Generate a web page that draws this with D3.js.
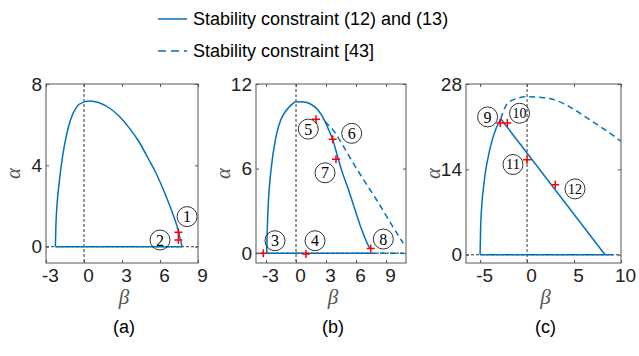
<!DOCTYPE html>
<html><head><meta charset="utf-8">
<script src="https://cdn.jsdelivr.net/npm/d3@7"></script>
<style>html,body{margin:0;padding:0;background:#fff}svg{display:block}</style>
</head><body>
<svg id="chart" width="639" height="356"></svg>
<script>
// ---------- data ----------
const legendLabels = ["Stability constraint (12) and (13)", "Stability constraint [43]"];
const panelNames = ["(a)", "(b)", "(c)"];

// panel (a)
const aXTicks = [-3, 0, 3, 6, 9];
const aYTicks = [0, 4, 8];
const aSolidBeta  = [-2.26, -2.22, -2.12, -1.95, -1.7, -1.41, -1.07, -0.6, 0.0, 0.48, 1.2, 2.0, 2.8, 3.6, 4.4, 5.1, 5.7, 6.3, 6.9, 7.35, 7.74];
const aSolidAlpha = [0.0, 1.0, 2.13, 3.2, 4.4, 5.41, 6.23, 6.85, 7.12, 7.17, 7.08, 6.82, 6.4, 5.82, 5.1, 4.3, 3.6, 2.75, 1.8, 1.0, 0.0];
const aZeroSolid = [-2.26, 7.74];
const aMarkBeta  = [7.45, 7.45];
const aMarkAlpha = [0.71, 0.33];
const aLabText  = ["1", "2"];
const aLabBeta  = [8.14, 6.0];
const aLabAlpha = [1.48, 0.33];

// panel (b)
const bXTicks = [-3, 0, 3, 6, 9];
const bYTicks = [0, 6, 12];
const bSolidBeta  = [-2.93, -2.88, -2.77, -2.5, -2.0, -1.53, -1.0, -0.5, 0.0, 0.7, 1.4, 2.2, 2.9, 3.3, 3.7, 4.1, 4.6, 5.2, 5.8, 6.4, 7.0, 7.4];
const bSolidAlpha = [0.0, 1.5, 3.52, 5.89, 8.26, 9.44, 10.1, 10.5, 10.74, 10.72, 10.6, 10.15, 9.35, 8.7, 8.0, 7.0, 5.8, 4.6, 3.3, 2.0, 0.9, 0.3];
const bDashBeta  = [2.9, 3.3, 3.8, 4.8, 5.73, 6.9, 8.07, 9.4, 10.73];
const bDashAlpha = [9.35, 9.05, 8.65, 7.5, 6.38, 5.05, 3.77, 2.2, 0.69];
const bZeroSolid = [-2.93, 7.4];
const bZeroDash  = [7.4, 10.73];
const bMarkBeta  = [-3.27, 1.0, 2.0, 3.67, 4.0, 7.47];
const bMarkAlpha = [0.0, -0.07, 9.5, 8.08, 6.66, 0.33];
const bLabText  = ["3", "4", "5", "6", "7", "8"];
const bLabBeta  = [-2.1, 1.9, 1.23, 5.57, 2.9, 8.73];
const bLabAlpha = [0.88, 0.88, 8.8, 8.5, 5.7, 1.0];

// panel (c)
const cXTicks = [-5, 0, 5, 10];
const cYTicks = [0, 14, 28];
const cRiseBeta  = [-5.0, -4.95, -4.8, -4.6, -4.4, -4.1, -3.8, -3.3, -2.8];
const cRiseAlpha = [0.0, 4.0, 8.5, 11.5, 13.9, 16.3, 18.3, 20.7, 22.3];
const cLineBeta  = [-2.8, 8.3];
const cLineAlpha = [22.3, 0.0];
const cDashBeta  = [-2.8, -2.3, -1.5, 0.0, 1.5, 2.9, 4.5, 5.75, 7.0, 8.2, 10.0];
const cDashAlpha = [22.3, 24.3, 25.4, 25.9, 25.8, 25.4, 24.3, 23.1, 21.8, 20.6, 18.6];
const cZeroSolid = [-5.0, 9.2];
const cMarkBeta  = [-2.85, -2.1, 0.0, 3.0];
const cMarkAlpha = [21.6, 21.6, 15.6, 11.5];
const cLabText  = ["9", "10", "11", "12"];
const cLabBeta  = [-4.2, -0.8, -1.5, 5.1];
const cLabAlpha = [22.6, 23.2, 14.8, 10.8];

// ---------- drawing ----------
const svg = d3.select("#chart");
svg.append("rect").attr("width", 639).attr("height", 356).attr("fill", "#fff");
const BLUE = "#0072BD";
const FONT = "'Liberation Sans', Arial, sans-serif";

// legend
const leg = svg.append("g");
[0, 1].forEach(i => {
  const y = [19, 51][i];
  leg.append("line").attr("x1", 158).attr("x2", 187).attr("y1", y).attr("y2", y)
    .attr("stroke", BLUE).attr("stroke-width", 1.5)
    .attr("stroke-dasharray", i === 1 ? "8,5" : null);
  leg.append("text").attr("x", 193).attr("y", y).attr("dy", "0.35em")
    .attr("font-family", FONT).attr("font-size", 18).attr("fill", "#000")
    .text(legendLabels[i]);
});

const S = d3.curveMonotoneX, L = d3.curveLinear;
const panels = [
  {x0: 46, x1: 198, xd: [-3, 9], yd: [-0.8, 8], xt: aXTicks, yt: aYTicks,
   solid: [[aSolidBeta, aSolidAlpha, S]], dash: [], zs: aZeroSolid, zd: null,
   mk: [aMarkBeta, aMarkAlpha], lab: [aLabText, aLabBeta, aLabAlpha]},
  {x0: 256, x1: 406, xd: [-4, 11], yd: [-0.7, 12], xt: bXTicks, yt: bYTicks,
   solid: [[bSolidBeta, bSolidAlpha, S]], dash: [[bDashBeta, bDashAlpha, S]], zs: bZeroSolid, zd: bZeroDash,
   mk: [bMarkBeta, bMarkAlpha], lab: [bLabText, bLabBeta, bLabAlpha]},
  {x0: 466, x1: 621, xd: [-6.5, 10], yd: [-1.35, 28], xt: cXTicks, yt: cYTicks,
   solid: [[cRiseBeta, cRiseAlpha, S], [cLineBeta, cLineAlpha, L]], dash: [[cDashBeta, cDashAlpha, S]], zs: cZeroSolid, zd: null,
   mk: [cMarkBeta, cMarkAlpha], lab: [cLabText, cLabBeta, cLabAlpha]}
];
const Y0 = 84, Y1 = 263;

panels.forEach((p, pi) => {
  const x = d3.scaleLinear().domain(p.xd).range([p.x0, p.x1]);
  const y = d3.scaleLinear().domain(p.yd).range([Y1, Y0]);
  const g = svg.append("g");
  const clipId = "clip" + pi;
  g.append("clipPath").attr("id", clipId).append("rect")
    .attr("x", p.x0).attr("y", Y0).attr("width", p.x1 - p.x0).attr("height", Y1 - Y0);
  const plot = g.append("g").attr("clip-path", `url(#${clipId})`);

  // reference dashed lines
  plot.append("line").attr("x1", x(0)).attr("x2", x(0)).attr("y1", Y0).attr("y2", Y1)
    .attr("stroke", "#000").attr("stroke-width", 0.8).attr("stroke-dasharray", "3,2");
  plot.append("line").attr("x1", p.x0).attr("x2", p.x1).attr("y1", y(0)).attr("y2", y(0))
    .attr("stroke", "#000").attr("stroke-width", 0.8).attr("stroke-dasharray", "3,2");

  const mkPts = (b, a) => b.map((v, i) => [v, a[i]]);
  const lineGen = (c) => d3.line().x(d => x(d[0])).y(d => y(d[1])).curve(c);

  // zero-line portions
  plot.append("path").datum([[p.zs[0], 0], [p.zs[1], 0]]).attr("d", lineGen(L))
    .attr("fill", "none").attr("stroke", BLUE).attr("stroke-width", 1.5);
  if (p.zd) plot.append("path").datum([[p.zd[0], 0], [p.zd[1], 0]]).attr("d", lineGen(L))
    .attr("fill", "none").attr("stroke", BLUE).attr("stroke-width", 1.5).attr("stroke-dasharray", "6,4");

  // curves
  p.solid.forEach(s => plot.append("path").datum(mkPts(s[0], s[1])).attr("d", lineGen(s[2]))
    .attr("fill", "none").attr("stroke", BLUE).attr("stroke-width", 1.5).attr("stroke-linejoin", "round"));
  p.dash.forEach(s => plot.append("path").datum(mkPts(s[0], s[1])).attr("d", lineGen(s[2]))
    .attr("fill", "none").attr("stroke", BLUE).attr("stroke-width", 1.5).attr("stroke-dasharray", "6,4"));

  // markers
  mkPts(p.mk[0], p.mk[1]).forEach(d => {
    const cx = x(d[0]), cy = y(d[1]), s = 4;
    plot.append("path").attr("d", `M${cx - s},${cy}H${cx + s}M${cx},${cy - s}V${cy + s}`)
      .attr("stroke", "#ff0000").attr("stroke-width", 1.5);
  });

  // circled labels
  p.lab[0].forEach((t, i) => {
    const cx = x(p.lab[1][i]), cy = y(p.lab[2][i]);
    g.append("circle").attr("cx", cx).attr("cy", cy).attr("r", 10)
      .attr("fill", "none").attr("stroke", "#000").attr("stroke-width", 0.8);
    const tx = g.append("text").attr("x", cx).attr("y", cy).attr("dy", "0.35em")
      .attr("text-anchor", "middle").attr("font-family", "'Liberation Serif', 'Times New Roman', serif")
      .attr("font-size", t.length > 1 ? 14 : 16).attr("fill", "#000").text(t);
    if (t.length > 1) tx.attr("textLength", 14).attr("lengthAdjust", "spacingAndGlyphs");
  });

  // box
  g.append("rect").attr("x", p.x0).attr("y", Y0).attr("width", p.x1 - p.x0).attr("height", Y1 - Y0)
    .attr("fill", "none").attr("stroke", "#555").attr("stroke-width", 1);

  // axes (ticks inside, labels outside)
  const fmt = d => String(d);
  const xb = g.append("g").attr("transform", `translate(0,${Y1})`)
    .call(d3.axisBottom(x).tickValues(p.xt).tickSize(-3).tickPadding(6).tickFormat(fmt));
  xb.selectAll(".tick text").attr("dx", 4);
  const xt = g.append("g").attr("transform", `translate(0,${Y0})`)
    .call(d3.axisTop(x).tickValues(p.xt).tickSize(-3).tickFormat(""));
  const yl = g.append("g").attr("transform", `translate(${p.x0},0)`)
    .call(d3.axisLeft(y).tickValues(p.yt).tickSize(-3).tickPadding(4).tickFormat(fmt));
  const yr = g.append("g").attr("transform", `translate(${p.x1},0)`)
    .call(d3.axisRight(y).tickValues(p.yt).tickSize(-3).tickFormat(""));
  [xb, xt, yl, yr].forEach(a => {
    a.select(".domain").remove();
    a.selectAll(".tick line").attr("stroke", "#555");
    a.selectAll("text").attr("font-family", FONT).attr("font-size", 19).attr("fill", "#222");
  });

  // axis labels
  const mid = (p.x0 + p.x1) / 2;
  g.append("text").attr("x", mid + 2).attr("y", 304).attr("text-anchor", "middle")
    .attr("font-family", "'Liberation Serif', serif").attr("font-style", "italic")
    .attr("font-size", 21).attr("fill", "#555").text("β");
  g.append("text").attr("transform", `translate(${p.x0 - 33},${(Y0 + Y1) / 2}) rotate(-90)`)
    .attr("text-anchor", "middle").attr("dy", "0.35em")
    .attr("font-family", "'Liberation Serif', serif").attr("font-style", "italic")
    .attr("font-size", 21).attr("fill", "#555").text("α");
  g.append("text").attr("x", mid + 2).attr("y", 333).attr("text-anchor", "middle")
    .attr("font-family", FONT).attr("font-size", 18).attr("fill", "#000").text(panelNames[pi]);
});
</script>
</body></html>
